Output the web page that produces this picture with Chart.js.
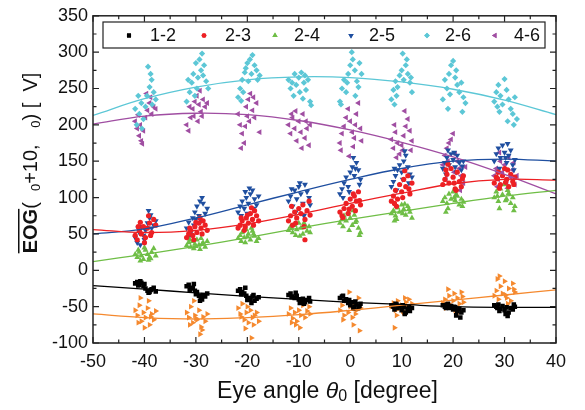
<!DOCTYPE html>
<html>
<head>
<meta charset="utf-8">
<script src="https://cdn.jsdelivr.net/npm/chart.js@4.4.1/dist/chart.umd.min.js"></script>
<style>
  html, body { margin: 0; padding: 0; background: #fff; }
  #wrap { width: 585px; height: 410px; }
</style>
</head>
<body>
<div id="wrap"><canvas id="eog" width="585" height="410"></canvas></div>
<script>
// ---- data -----------------------------------------------------------
const xTicks = [-50, -40, -30, -20, -10, 0, 10, 20, 30, 40];
const yTicks = [-100, -50, 0, 50, 100, 150, 200, 250, 300, 350];
const legendLabels = ['1-2', '2-3', '2-4', '2-5', '2-6', '4-6'];

// fitted curves, sampled at the x ticks
const fitX   = [-50, -40, -30, -20, -10, 0, 10, 20, 30, 40];
const fit12  = [-21, -26, -31, -36, -40, -44, -47, -50, -51, -51];
const fit23  = [56, 52, 55, 64, 77, 92, 106, 119, 125, 124];
const fit24  = [12, 22, 33, 45, 58, 70, 81, 92, 102, 110];
const fit25  = [50, 57, 72, 90, 108, 125, 140, 150, 153, 150];
const fit26  = [213, 236, 252, 262, 266, 265, 259, 249, 234, 214];
const fit46  = [201, 212, 216, 214, 206, 193, 176, 156, 132, 105];
const fitOr  = [-60, -65, -67, -65, -61, -55, -48, -41, -34, -27];

// scatter clusters [x, y]
const pts12 = [
  [-41.8,-18],[-41.4,-16],[-41.0,-20],[-40.6,-17],[-40.2,-22],[-39.8,-25],[-39.4,-28],[-39.0,-30],[-38.6,-26],[-38.2,-24],[-37.8,-29],[-40.0,-19],[-39.2,-31],[-41.2,-21],[-38.8,-27],[-40.8,-15],
  [-31.8,-22],[-31.4,-20],[-31.0,-25],[-30.6,-24],[-30.2,-28],[-29.8,-30],[-29.4,-35],[-29.0,-38],[-28.6,-34],[-28.2,-36],[-27.8,-32],[-30.4,-19],[-29.2,-42],[-31.2,-27],[-28.8,-40],[-30.0,-33],
  [-21.8,-28],[-21.4,-26],[-21.0,-30],[-20.6,-32],[-20.2,-35],[-19.8,-38],[-19.4,-40],[-19.0,-36],[-18.6,-42],[-18.2,-39],[-17.8,-37],[-20.4,-24],[-19.2,-45],[-21.2,-33],[-18.8,-34],[-20.0,-41],
  [-12.0,-34],[-11.6,-32],[-11.2,-36],[-10.8,-38],[-10.4,-35],[-10.0,-40],[-9.6,-42],[-9.2,-39],[-8.8,-44],[-8.4,-41],[-8.0,-38],[-10.6,-31],[-9.0,-46],[-11.4,-37],[-7.8,-43],[-9.8,-45],
  [-2.0,-38],[-1.6,-36],[-1.2,-42],[-0.8,-40],[-0.4,-45],[0.0,-48],[0.4,-44],[0.8,-50],[1.2,-47],[1.6,-52],[2.0,-46],[-1.4,-35],[0.6,-53],[-0.2,-41],[1.8,-49],[1.0,-43],
  [8.0,-48],[8.4,-50],[8.8,-46],[9.2,-52],[9.6,-49],[10.0,-55],[10.4,-51],[10.8,-58],[11.2,-53],[11.6,-56],[12.0,-52],[9.0,-47],[10.6,-60],[11.4,-50],[8.6,-54],[10.2,-48],
  [18.0,-48],[18.4,-50],[18.8,-47],[19.2,-52],[19.6,-49],[20.0,-54],[20.4,-51],[20.8,-56],[21.2,-53],[21.6,-58],[22.0,-55],[19.0,-46],[20.6,-62],[21.4,-65],[18.6,-52],[20.2,-50],
  [28.0,-48],[28.4,-50],[28.8,-47],[29.2,-53],[29.6,-49],[30.0,-55],[30.4,-51],[30.8,-58],[31.2,-52],[31.6,-54],[32.0,-50],[29.0,-56],[30.6,-63],[31.8,-47],[28.6,-52],[30.2,-60]
];
const pts23 = [
  [-41.8,48],[-41.4,42],[-41.0,55],[-40.6,50],[-40.2,60],[-39.8,45],[-39.4,58],[-39.0,65],[-38.6,52],[-38.2,70],[-37.8,62],[-40.0,38],[-39.2,75],[-41.2,60],[-38.8,48],[-40.8,66],
  [-31.8,45],[-31.4,50],[-31.0,55],[-30.6,48],[-30.2,60],[-29.8,52],[-29.4,65],[-29.0,58],[-28.6,68],[-28.2,62],[-27.8,55],[-30.4,42],[-29.2,72],[-31.2,58],[-28.8,50],[-30.0,66],
  [-21.8,58],[-21.4,62],[-21.0,68],[-20.6,55],[-20.2,72],[-19.8,65],[-19.4,78],[-19.0,70],[-18.6,82],[-18.2,75],[-17.8,68],[-20.4,60],[-19.2,86],[-21.2,72],[-18.8,62],[-20.0,76],
  [-12.0,68],[-11.6,75],[-11.2,62],[-10.8,80],[-10.4,72],[-10.0,85],[-9.6,78],[-9.2,90],[-8.8,70],[-8.4,82],[-8.0,95],[-10.6,65],[-9.0,60],[-11.4,88],[-7.8,76],[-8.8,42],
  [-2.0,80],[-1.6,75],[-1.2,85],[-0.8,92],[-0.4,78],[0.0,98],[0.4,88],[0.8,102],[1.2,95],[1.6,108],[2.0,90],[-1.4,72],[0.6,105],[-0.2,84],[1.8,96],[1.0,82],
  [8.0,95],[8.4,102],[8.8,110],[9.2,98],[9.6,118],[10.0,108],[10.4,125],[10.8,115],[11.2,130],[11.6,105],[12.0,120],[9.0,88],[10.6,137],[11.4,112],[8.6,92],[10.2,100],
  [18.0,118],[18.4,125],[18.8,132],[19.2,120],[19.6,140],[20.0,128],[20.4,112],[20.8,135],[21.2,122],[21.6,115],[22.0,130],[19.0,146],[20.6,110],[21.8,126],[18.6,138],[20.2,120],
  [28.0,120],[28.4,128],[28.8,135],[29.2,118],[29.6,130],[30.0,140],[30.4,125],[30.8,115],[31.2,132],[31.6,122],[32.0,128],[29.0,113],[30.6,138],[31.8,118],[28.6,126],[30.2,121]
];
const pts24 = [
  [-41.8,22],[-41.4,18],[-41.0,25],[-40.6,20],[-40.2,15],[-39.8,28],[-39.4,22],[-39.0,18],[-38.6,25],[-38.2,30],[-37.8,20],[-40.0,31],[-39.2,14],[-41.2,28],[-38.8,16],[-40.8,13],
  [-31.8,34],[-31.4,38],[-31.0,32],[-30.6,40],[-30.2,36],[-29.8,42],[-29.4,35],[-29.0,44],[-28.6,38],[-28.2,32],[-27.8,40],[-30.4,30],[-29.2,29],[-31.2,42],[-28.8,36],[-30.0,33],
  [-21.8,44],[-21.4,48],[-21.0,52],[-20.6,45],[-20.2,56],[-19.8,50],[-19.4,42],[-19.0,54],[-18.6,47],[-18.2,40],[-17.8,44],[-20.4,38],[-19.2,58],[-21.2,40],[-18.8,50],[-20.0,46],
  [-12.0,55],[-11.6,60],[-11.2,52],[-10.8,62],[-10.4,56],[-10.0,65],[-9.6,58],[-9.2,50],[-8.8,62],[-8.4,54],[-8.0,60],[-10.6,48],[-9.0,65],[-11.4,58],[-7.8,52],[-9.8,47],
  [-2.0,65],[-1.6,70],[-1.2,75],[-0.8,68],[-0.4,80],[0.0,72],[0.4,62],[0.8,76],[1.2,68],[1.6,58],[2.0,52],[-1.4,60],[0.6,82],[-0.2,55],[1.8,48],[1.0,66],
  [8.0,78],[8.4,82],[8.8,75],[9.2,86],[9.6,80],[10.0,90],[10.4,84],[10.8,76],[11.2,88],[11.6,80],[12.0,72],[9.0,70],[10.6,91],[11.4,84],[8.6,68],[10.2,78],
  [18.0,95],[18.4,100],[18.8,92],[19.2,105],[19.6,98],[20.0,108],[20.4,96],[20.8,102],[21.2,90],[21.6,98],[22.0,94],[19.0,85],[20.6,104],[21.8,88],[18.6,80],[20.2,100],
  [28.0,100],[28.4,108],[28.8,95],[29.2,112],[29.6,104],[30.0,118],[30.4,98],[30.8,106],[31.2,92],[31.6,100],[32.0,88],[29.0,85],[30.6,110],[31.8,82],[28.6,102],[30.2,96]
];
const pts25 = [
  [-41.8,45],[-41.4,38],[-41.0,52],[-40.6,60],[-40.2,48],[-39.8,55],[-39.4,65],[-39.0,72],[-38.6,58],[-38.2,62],[-37.8,68],[-39.2,82],[-40.8,35],[-38.8,76],[-41.2,58],[-40.0,42],
  [-31.8,58],[-31.4,66],[-31.0,52],[-30.6,72],[-30.2,80],[-29.8,88],[-29.4,75],[-29.0,68],[-28.6,92],[-28.2,78],[-27.8,85],[-28.8,100],[-30.4,62],[-29.2,95],[-31.2,48],[-30.0,70],
  [-21.8,80],[-21.4,88],[-21.0,95],[-20.6,85],[-20.2,100],[-19.8,92],[-19.4,105],[-19.0,110],[-18.6,98],[-18.2,90],[-17.8,102],[-20.0,78],[-21.2,75],[-19.6,113],[-18.8,85],[-20.4,108],
  [-12.0,95],[-11.6,102],[-11.2,88],[-10.8,110],[-10.4,98],[-10.0,115],[-9.6,105],[-9.2,92],[-8.8,118],[-8.4,108],[-8.0,100],[-10.6,80],[-9.0,75],[-11.4,112],[-7.8,90],[-9.8,120],
  [-2.0,105],[-1.6,112],[-1.2,120],[-0.8,128],[-0.4,115],[0.0,135],[0.4,142],[0.8,130],[1.2,148],[1.6,138],[2.0,125],[-1.4,100],[0.6,155],[-0.2,108],[1.8,118],[1.0,140],
  [8.0,115],[8.4,122],[8.8,130],[9.2,138],[9.6,145],[10.0,135],[10.4,150],[10.8,158],[11.2,142],[11.6,132],[12.0,128],[9.0,110],[10.6,164],[11.4,120],[8.6,140],[10.2,125],
  [18.0,140],[18.4,148],[18.8,155],[19.2,145],[19.6,160],[20.0,152],[20.4,142],[20.8,158],[21.2,148],[21.6,138],[22.0,150],[19.0,165],[20.6,135],[21.8,143],[18.6,132],[20.2,162],
  [28.0,150],[28.4,160],[28.8,168],[29.2,155],[29.6,172],[30.0,162],[30.4,148],[30.8,158],[31.2,165],[31.6,145],[32.0,152],[29.0,140],[30.6,174],[31.8,138],[28.6,135],[30.2,155]
];
const pts26 = [
  [-41.5,200],[-41.0,215],[-40.6,230],[-41.8,222],[-40.2,208],[-39.5,240],[-39.0,252],[-38.6,262],[-39.8,225],[-38.2,245],[-38.8,270],[-39.3,280],[-40.5,195],[-37.8,235],[-41.2,240],[-38.5,228],
  [-31.8,232],[-31.2,245],[-30.8,258],[-30.2,240],[-29.6,265],[-29.0,275],[-28.4,282],[-28.8,298],[-29.3,290],[-30.5,270],[-31.5,262],[-28.0,260],[-27.6,250],[-29.8,250],[-28.6,268],[-30.0,285],
  [-21.8,238],[-21.4,250],[-21.0,262],[-20.5,272],[-20.0,285],[-19.5,290],[-19.0,296],[-18.6,282],[-18.2,275],[-19.8,260],[-20.8,245],[-18.0,262],[-17.6,268],[-19.2,270],[-21.2,233],[-20.3,278],
  [-12.0,262],[-11.6,250],[-11.0,240],[-10.5,255],[-10.0,265],[-9.5,272],[-9.0,258],[-8.6,248],[-8.2,262],[-7.8,232],[-10.8,270],[-9.8,245],[-8.8,268],[-11.3,258],[-9.2,236],[-7.6,227],
  [-2.0,232],[-1.6,250],[-1.2,262],[-0.8,245],[-0.4,270],[0.0,282],[0.5,290],[0.9,275],[1.3,260],[1.8,285],[2.2,270],[0.3,300],[-0.6,258],[1.0,240],[-1.8,228],[1.6,252],
  [8.0,235],[8.4,248],[8.8,260],[9.2,252],[9.6,268],[10.0,275],[10.4,262],[10.8,282],[11.2,270],[11.6,258],[12.0,245],[10.2,298],[9.0,240],[11.0,290],[8.6,228],[11.8,265],
  [18.0,235],[18.4,262],[18.8,250],[19.2,270],[19.6,282],[20.0,288],[20.4,265],[20.8,255],[21.2,245],[21.6,258],[22.0,238],[22.4,230],[19.0,222],[20.6,275],[21.8,218],[19.4,242],
  [28.0,232],[28.4,245],[28.8,255],[29.2,240],[29.6,228],[30.0,263],[30.4,248],[30.8,235],[31.2,222],[31.6,215],[32.0,238],[32.4,208],[29.0,218],[30.6,205],[31.8,200],[28.6,225]
];
const pts46 = [
  [-41.8,205],[-41.4,195],[-41.0,185],[-40.6,178],[-40.2,192],[-39.8,210],[-39.4,220],[-39.0,230],[-38.6,215],[-38.2,225],[-37.8,222],[-39.6,243],[-40.8,200],[-38.8,238],[-41.2,214],[-40.4,174],
  [-31.8,200],[-31.4,192],[-31.0,210],[-30.6,222],[-30.2,232],[-29.8,240],[-29.4,228],[-29.0,218],[-28.6,235],[-28.2,225],[-27.8,230],[-29.2,247],[-30.4,212],[-28.8,212],[-31.2,225],[-29.6,205],
  [-21.8,215],[-21.4,200],[-21.0,188],[-20.6,175],[-20.2,225],[-19.8,235],[-19.4,243],[-19.0,220],[-18.6,210],[-18.2,230],[-20.4,198],[-19.6,205],[-21.2,168],[-17.6,190],[-18.8,238],[-20.0,212],
  [-12.0,200],[-11.6,188],[-11.2,210],[-10.8,195],[-10.4,178],[-10.0,205],[-9.6,190],[-9.2,215],[-8.8,182],[-8.4,195],[-8.0,172],[-7.8,200],[-11.4,215],[-9.4,168],[-10.6,219],[-8.6,205],
  [-2.0,175],[-1.6,188],[-1.2,198],[-0.8,210],[-0.4,222],[0.0,205],[0.4,190],[0.8,182],[1.2,215],[1.6,230],[2.0,195],[-1.8,165],[0.6,170],[-0.2,157],[2.2,178],[1.0,200],
  [8.0,180],[8.4,168],[8.8,190],[9.2,175],[9.6,160],[10.0,172],[10.4,185],[10.8,198],[11.2,208],[11.6,192],[12.0,178],[9.0,155],[10.6,219],[11.8,165],[8.6,200],[10.2,165],
  [18.0,145],[18.4,158],[18.8,168],[19.2,175],[19.6,180],[20.0,188],[20.4,160],[20.8,150],[21.2,140],[21.6,130],[22.0,120],[19.0,150],[20.2,135],[21.4,110],[18.6,125],[22.4,142],
  [28.0,130],[28.4,140],[28.8,125],[29.2,150],[29.6,135],[30.0,145],[30.4,120],[30.8,155],[31.2,128],[31.6,138],[32.0,118],[29.0,162],[30.6,113],[31.8,148],[28.6,115],[32.4,130]
];
const ptsOr = [
  [-41.8,-55],[-41.4,-62],[-41.0,-48],[-40.6,-70],[-40.2,-58],[-39.8,-65],[-39.4,-52],[-39.0,-75],[-38.6,-60],[-38.2,-68],[-37.8,-56],[-40.0,-79],[-39.2,-42],[-41.2,-72],[-38.8,-64],[-40.8,-38],
  [-31.8,-58],[-31.4,-65],[-31.0,-50],[-30.6,-72],[-30.2,-62],[-29.8,-68],[-29.4,-55],[-29.0,-78],[-28.6,-64],[-28.2,-70],[-27.8,-60],[-30.4,-42],[-29.2,-88],[-31.2,-75],[-28.8,-82],[-30.0,-66],
  [-21.8,-52],[-21.4,-60],[-21.0,-46],[-20.6,-68],[-20.2,-58],[-19.8,-72],[-19.4,-55],[-19.0,-65],[-18.6,-62],[-18.2,-58],[-17.8,-70],[-20.4,-80],[-19.2,-93],[-21.2,-64],[-18.8,-75],[-20.0,-50],
  [-12.0,-60],[-11.6,-52],[-11.2,-66],[-10.8,-58],[-10.4,-70],[-10.0,-55],[-9.6,-62],[-9.2,-48],[-8.8,-65],[-8.4,-56],[-8.0,-50],[-10.6,-75],[-9.0,-45],[-11.4,-72],[-7.8,-60],[-9.8,-79],
  [-2.0,-55],[-1.6,-48],[-1.2,-62],[-0.8,-42],[-0.4,-58],[0.0,-50],[0.4,-65],[0.8,-45],[1.2,-55],[1.6,-38],[2.0,-52],[-1.4,-68],[0.6,-75],[-0.2,-30],[1.8,-83],[1.0,-60],
  [8.0,-50],[8.4,-45],[8.8,-55],[9.2,-42],[9.6,-52],[10.0,-48],[10.4,-58],[10.8,-44],[11.2,-50],[11.6,-54],[12.0,-46],[9.0,-62],[10.6,-38],[11.4,-40],[8.6,-79],[10.2,-56],
  [18.0,-45],[18.4,-40],[18.8,-50],[19.2,-35],[19.6,-48],[20.0,-42],[20.4,-55],[20.8,-38],[21.2,-46],[21.6,-30],[22.0,-44],[19.0,-26],[20.6,-60],[21.8,-36],[18.6,-52],[20.2,-32],
  [28.0,-35],[28.4,-28],[28.8,-40],[29.2,-22],[29.6,-32],[30.0,-15],[30.4,-38],[30.8,-25],[31.2,-42],[31.6,-18],[32.0,-30],[29.0,-8],[30.6,-46],[31.8,-26],[28.6,-12],[30.2,-34]
];

// ---- styling ---------------------------------------------------------
const FONT = "'Liberation Sans', Arial, Helvetica, sans-serif";
const SERIES = [
  { label: '1-2', pts: pts12, fit: fit12, color: '#000000', style: 'rect',     rot: 0,   r: 3.2 },
  { label: '2-3', pts: pts23, fit: fit23, color: '#ed2024', style: 'circle',   rot: 0,   r: 2.6 },
  { label: '2-4', pts: pts24, fit: fit24, color: '#6fbe46', style: 'triangle', rot: 0,   r: 3.4 },
  { label: '2-5', pts: pts25, fit: fit25, color: '#1f4fa0', style: 'triangle', rot: 180, r: 3.4 },
  { label: '2-6', pts: pts26, fit: fit26, color: '#5cc7d6', style: 'rectRot',  rot: 0,   r: 3.1 },
  { label: '4-6', pts: pts46, fit: fit46, color: '#a04ea2', style: 'triangle', rot: -90, r: 3.4 },
  { label: null,  pts: ptsOr, fit: fitOr, color: '#f5892e', style: 'triangle', rot: 90,  r: 3.4 },
];

const xy = pairs => pairs.map(p => ({ x: p[0], y: p[1] }));

const datasets = [];
SERIES.forEach(s => {
  datasets.push({
    type: 'line',
    data: fitX.map((x, i) => ({ x: x, y: s.fit[i] })),
    borderColor: s.color,
    borderWidth: 1.3,
    pointRadius: 0,
    tension: 0.4,
    fill: false,
    order: 0,
  });
  datasets.push({
    type: 'scatter',
    label: s.label,
    data: xy(s.pts),
    pointStyle: s.style,
    rotation: s.rot,
    pointRadius: s.r,
    backgroundColor: s.color,
    borderWidth: 0,
    order: 1,
  });
});

// frame, inward ticks, legend box and axis titles
const decor = {
  id: 'decor',
  afterDraw(chart) {
    const { ctx, chartArea: a, scales } = chart;
    const xs = scales.x, ys = scales.y;
    ctx.save();
    ctx.strokeStyle = '#222';
    ctx.lineWidth = 1.5;
    ctx.strokeRect(a.left, a.top, a.right - a.left, a.bottom - a.top);

    ctx.lineWidth = 1.2;
    ctx.beginPath();
    for (let v = -50; v <= 40; v += 5) {
      const px = xs.getPixelForValue(v);
      const len = v % 10 === 0 ? 6 : 3.5;
      ctx.moveTo(px, a.bottom); ctx.lineTo(px, a.bottom - len);
      ctx.moveTo(px, a.top);    ctx.lineTo(px, a.top + len);
    }
    for (let v = -100; v <= 350; v += 25) {
      const py = ys.getPixelForValue(v);
      const len = v % 50 === 0 ? 6 : 3.5;
      ctx.moveTo(a.left, py);  ctx.lineTo(a.left + len, py);
      ctx.moveTo(a.right, py); ctx.lineTo(a.right - len, py);
    }
    ctx.stroke();

    // legend
    ctx.fillStyle = '#fff';
    ctx.fillRect(103, 22, 442, 26);
    ctx.strokeStyle = '#222';
    ctx.lineWidth = 1.2;
    ctx.strokeRect(103, 22, 442, 26);
    const mx = [129, 204, 275, 351, 427, 495];
    const tx = [150, 225, 294, 369, 445, 514];
    ctx.font = '18px ' + FONT;
    ctx.textBaseline = 'middle';
    ctx.textAlign = 'left';
    legendLabels.forEach((lab, i) => {
      const s = SERIES[i];
      ctx.fillStyle = s.color;
      Chart.helpers.drawPoint(ctx, { pointStyle: s.style, rotation: s.rot, radius: s.r * 0.9, borderWidth: 0 }, mx[i], 35.5);
      ctx.fill();
      ctx.fillStyle = '#111';
      ctx.fillText(lab, tx[i], 36);
    });

    // x title: Eye angle θ0 [degree]
    ctx.fillStyle = '#111';
    ctx.textBaseline = 'alphabetic';
    const segX = [
      { t: 'Eye angle ', f: '23px ' + FONT, dy: 0 },
      { t: '\u03b8', f: 'italic 23px ' + FONT, dy: 0 },
      { t: '0', f: '16px ' + FONT, dy: 3 },
      { t: ' [degree]', f: '23px ' + FONT, dy: 0 },
    ];
    drawSegs(ctx, segX, (a.left + a.right) / 2 + 3, 398, 0);

    // y title: EOG(θ0+10, θ0) [μV] as it appears (Greek glyphs missing)
    const segY = [
      { t: 'EOG', f: 'bold 20px ' + FONT, dy: 0, over: true },
      { t: '(  ', f: '20px ' + FONT, dy: 0 },
      { t: '0', f: '13px ' + FONT, dy: 3 },
      { t: '+10,   ', f: '20px ' + FONT, dy: 0 },
      { t: '0', f: '13px ' + FONT, dy: 3 },
      { t: ') [  V]', f: '20px ' + FONT, dy: 0 },
    ];
    ctx.translate(37, 163);
    ctx.rotate(-Math.PI / 2);
    drawSegs(ctx, segY, 0, 0, 1);
    ctx.restore();
  },
};

function drawSegs(ctx, segs, cx, by, overline) {
  let total = 0;
  segs.forEach(s => { ctx.font = s.f; s.w = ctx.measureText(s.t).width; total += s.w; });
  let x = cx - total / 2;
  ctx.textAlign = 'left';
  segs.forEach(s => {
    ctx.font = s.f;
    ctx.fillText(s.t, x, by + s.dy);
    if (overline && s.over) {
      ctx.fillRect(x, by - 19, s.w, 1.5);
    }
    x += s.w;
  });
}

new Chart(document.getElementById('eog'), {
  type: 'scatter',
  data: { datasets: datasets },
  options: {
    responsive: false,
    animation: false,
    layout: { padding: { top: 15, right: 29, left: 0, bottom: 0 } },
    plugins: { legend: { display: false }, tooltip: { enabled: false } },
    scales: {
      x: {
        type: 'linear', min: -50, max: 40,
        afterFit: s => { s.height = 67; },
        afterBuildTicks: s => { s.ticks = xTicks.map(v => ({ value: v })); },
        grid: { display: false, drawTicks: false },
        border: { display: false },
        ticks: { color: '#111', font: { size: 18, family: FONT }, padding: 8, maxRotation: 0, autoSkip: false },
      },
      y: {
        type: 'linear', min: -100, max: 350,
        afterFit: s => { s.width = 93; },
        afterBuildTicks: s => { s.ticks = yTicks.map(v => ({ value: v })); },
        grid: { display: false, drawTicks: false },
        border: { display: false },
        ticks: { color: '#111', font: { size: 18, family: FONT }, padding: 5, autoSkip: false },
      },
    },
  },
  plugins: [decor],
});
</script>
</body>
</html>
